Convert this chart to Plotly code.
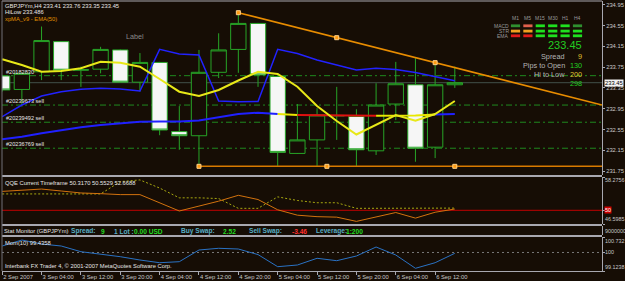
import plotly.graph_objects as go

# ---------------- data ----------------
bars = list(range(24))
open_ = [233.58, 233.32, 233.66, 234.24, 233.69, 233.71, 234.08, 233.46, 233.84, 232.51, 232.43, 233.65,
         234.09, 234.59, 233.57, 232.09, 232.35, 232.81, 232.80, 232.14, 233.04, 233.41, 232.21, 233.41]
high = [233.60, 233.64, 234.53, 234.25, 233.76, 234.14, 234.09, 234.02, 233.85, 233.00, 234.08, 234.40,
        234.80, 234.60, 233.58, 233.04, 232.96, 233.37, 232.94, 233.44, 233.85, 233.92, 233.84, 233.76]
low = [233.28, 232.99, 233.50, 233.50, 233.37, 233.63, 233.45, 233.28, 232.44, 232.16, 231.85, 233.54,
       233.64, 233.37, 231.85, 232.08, 231.85, 232.35, 231.85, 232.06, 232.73, 231.93, 232.00, 233.35]
close = [233.31, 233.63, 234.26, 233.69, 233.70, 234.09, 233.46, 233.84, 232.54, 232.43, 233.65, 234.08,
         234.59, 233.60, 232.11, 232.35, 232.83, 232.82, 232.16, 233.02, 233.43, 232.19, 233.41, 233.45]

xpma = [233.900, 233.790, 233.660, 233.675, 233.727, 233.854, 233.835, 233.758, 233.521, 233.277, 233.194, 233.310,
        233.492, 233.660, 233.617, 233.373, 233.002, 232.713, 232.454, 232.637, 232.829, 232.719, 232.848, 233.098]
hilow = [232.796, 233.021, 233.194, 233.277, 233.323, 233.342, 233.329, 233.290, 234.092, 234.002, 233.983, 233.098,
         233.085, 233.088, 234.092, 234.012, 233.887, 233.790, 233.694, 233.727, 233.704, 233.646, 233.560, 233.486]
ema50 = [232.362, 232.412, 232.477, 232.540, 232.592, 232.637, 232.669, 232.700, 232.704, 232.704, 232.723, 232.781,
         232.848, 232.873, 232.848, 232.829, 232.829, 232.819, 232.815, 232.815, 232.819, 232.819, 232.838, 232.848]
ema50_state = ["up", "up", "up", "up", "up", "up", "up", "up", "up", "up", "up", "up",
               "up", "up", "up", "flat", "down", "down", "down", "down", "flat", "flat", "flat", "up"]

qqe_rsi = [54.70, 54.99, 55.28, 54.80, 54.31, 54.14, 53.90, 53.90, 51.88, 49.83, 51.05, 52.27,
           53.73, 52.68, 50.13, 48.79, 48.42, 48.30, 47.25, 48.38, 49.45, 48.06, 49.52, 50.32]
qqe_trail = [54.07, 54.07, 54.07, 54.07, 54.07, 54.07, 57.13, 57.55, 55.53, 53.10, 53.10, 52.92,
             50.49, 50.49, 53.34, 52.44, 51.88, 51.88, 50.49, 50.49, 50.49, 50.49, 50.49, 50.55]
mom = [100.306, 100.590, 100.401, 100.306, 100.037, 99.928, 99.800, 99.644, 99.516, 99.564, 100.117, 100.198,
       100.164, 99.900, 99.327, 99.407, 99.725, 99.611, 99.833, 100.259, 99.881, 99.251, 99.516, 99.961]

time_label_bars = [0, 2, 4, 6, 8, 10, 12, 14, 16, 18, 20, 22]
time_labels = ["2 Sep 2007", "3 Sep 04:00", "3 Sep 12:00", "3 Sep 20:00", "4 Sep 04:00", "4 Sep 12:00",
               "4 Sep 20:00", "5 Sep 04:00", "5 Sep 12:00", "5 Sep 20:00", "6 Sep 04:00", "6 Sep 12:00"]

price_ticks = [234.95, 234.55, 234.15, 233.75, 233.35, 232.95, 232.55, 232.15, 231.75]
bid_price = 233.45

order_ids = ["#20182830", "#20239673 sell", "#20239492 sell", "#20236769 sell"]
order_prices = [233.585, 233.02, 232.69, 232.19]

trend_bars = [12, 22]
trend_prices = [234.796, 233.835]
support_bars = [10, 23]
support_price = 231.842

qqe_levels = [58.2756, 50.0, 46.5985]     # max, level, min
mom_levels = [100.732, 100.0, 99.1238]    # max, level, min
stat_axis_label = "9000000"

header_lines = ["GBPJPYm,H4 233.41 233.76 233.35 233.45", "HiLow 233.486"]
ma_caption = "xpMA_v9 - EMA(50)"
qqe_caption = "QQE Current Timeframe 50.3170 50.5529 52.6688"
mom_caption = "Mom(10) 99.4358"
copyright_text = "Interbank FX Trader 4, © 2001-2007 MetaQuotes Software Corp."
object_label = "Label"

big_price = "233.45"
info_names = ["Spread", "Pips to Open", "Hi to Low", ""]
info_values = ["9", "130", "200", "298"]
info_kinds = ["warn", "ok", "warn", "ok"]

tf_names = ["M1", "M5", "M15", "M30", "H1", "H4"]
ind_names = ["MACD", "STR", "EMA"]
signals = [["weak", "soft_down", "up", "up", "up", "weak"],
           ["warn", "warn", "up", "up", "up", "up"],
           ["down", "down", "up", "up", "up", "up"]]

stat_items = [("Stat Monitor (GBPJPYm)", "title"), ("Spread:", "key"), ("9", "val"), ("1 Lot :", "key"),
              ("0.00 USD", "val"), ("Buy Swap:", "key"), ("2.52", "val"), ("Sell Swap:", "key"),
              ("-3.46", "neg"), ("Leverage:", "key"), ("1:200", "val")]

# ---------------- layout geometry / style ----------------
W, H = 625, 281
ML, MR, MT, MB = 2, 23, 1, 10
PW, PH = W - ML - MR, H - MT - MB


def fx(px):
    return (px - ML) / PW


def fy(py):
    return (H - MB - py) / PH


X0, X1 = -0.01, 30.48
BG = "#160d05"
GREEN = "#27a527"
WHITE = "#e6e6e6"
GRAY = "#a8a8b0"
FONT = "Liberation Sans, Arial, sans-serif"
ORANGE = "#e88c00"

fig = go.Figure()

fig.add_trace(go.Candlestick(
    x=bars, open=open_, high=high, low=low, close=close,
    increasing=dict(line=dict(color=GREEN, width=1), fillcolor=BG),
    decreasing=dict(line=dict(color=GREEN, width=1), fillcolor="#f6f6f6"),
    whiskerwidth=0, xaxis="x", yaxis="y", showlegend=False, hoverinfo="skip"))

# EMA(50) multi-coloured
state_color = {"up": "#2020ff", "flat": "#e8e800", "down": "#e01010"}
k = 1
while k < len(bars):
    s = ema50_state[k]
    j = k
    while j + 1 < len(bars) and ema50_state[j + 1] == s:
        j += 1
    fig.add_trace(go.Scatter(x=bars[k - 1:j + 1], y=ema50[k - 1:j + 1], mode="lines",
                             line=dict(color=state_color[s], width=2), xaxis="x", yaxis="y",
                             showlegend=False, hoverinfo="skip"))
    k = j + 1

fig.add_trace(go.Scatter(x=bars, y=hilow, mode="lines", line=dict(color="#2222ff", width=1.5),
                         xaxis="x", yaxis="y", showlegend=False, hoverinfo="skip"))
fig.add_trace(go.Scatter(x=bars, y=xpma, mode="lines", line=dict(color="#e8e818", width=2),
                         xaxis="x", yaxis="y", showlegend=False, hoverinfo="skip"))

# trend lines (rays to the right edge)
slope = (trend_prices[1] - trend_prices[0]) / (trend_bars[1] - trend_bars[0])
fig.add_trace(go.Scatter(x=[trend_bars[0], X1],
                         y=[trend_prices[0], trend_prices[0] + slope * (X1 - trend_bars[0])],
                         mode="lines", line=dict(color=ORANGE, width=1.6), xaxis="x", yaxis="y",
                         showlegend=False, hoverinfo="skip"))
fig.add_trace(go.Scatter(x=[support_bars[0], X1], y=[support_price, support_price],
                         mode="lines", line=dict(color="#d87a00", width=1.6), xaxis="x", yaxis="y",
                         showlegend=False, hoverinfo="skip"))
tb_mid = (trend_bars[0] + trend_bars[1]) / 2
sb_mid = (support_bars[0] + support_bars[1]) / 2
fig.add_trace(go.Scatter(
    x=[trend_bars[0], tb_mid, trend_bars[1], support_bars[0], sb_mid, support_bars[1]],
    y=[trend_prices[0], trend_prices[0] + slope * (tb_mid - trend_bars[0]), trend_prices[1],
       support_price, support_price, support_price],
    mode="markers", marker=dict(symbol="square", size=4, color="#ff9a10",
                                line=dict(color="#ffd28a", width=1)),
    xaxis="x", yaxis="y", showlegend=False, hoverinfo="skip"))

# QQE
fig.add_trace(go.Scatter(x=bars, y=qqe_trail, mode="lines", line=dict(color="#a8a810", width=1, dash="2px,2px"),
                         xaxis="x", yaxis="y2", showlegend=False, hoverinfo="skip"))
fig.add_trace(go.Scatter(x=bars, y=qqe_rsi, mode="lines", line=dict(color="#d2720e", width=1),
                         xaxis="x", yaxis="y2", showlegend=False, hoverinfo="skip"))
# stat strip (empty)
fig.add_trace(go.Scatter(x=[bars[0]], y=[0.5], mode="markers", marker=dict(opacity=0),
                         xaxis="x", yaxis="y3", showlegend=False, hoverinfo="skip"))
# Momentum
fig.add_trace(go.Scatter(x=bars, y=mom, mode="lines", line=dict(color="#2a72c4", width=1),
                         xaxis="x", yaxis="y4", showlegend=False, hoverinfo="skip"))

shapes = []
for p in order_prices:
    shapes.append(dict(type="line", xref="paper", x0=0, x1=1, yref="y", y0=p, y1=p, layer="below",
                       line=dict(color="#1f8a1f", width=1, dash="6px,3px,2px,3px")))
shapes.append(dict(type="line", xref="paper", x0=0, x1=1, yref="y", y0=bid_price, y1=bid_price, layer="below",
                   line=dict(color="#42514a", width=1)))
shapes.append(dict(type="line", xref="paper", x0=0, x1=1, yref="y2", y0=qqe_levels[1], y1=qqe_levels[1],
                   layer="below", line=dict(color="#c00000", width=1)))
shapes.append(dict(type="line", xref="paper", x0=0, x1=1, yref="y4", y0=mom_levels[1], y1=mom_levels[1],
                   layer="below", line=dict(color="#7a7a7a", width=1, dash="2px,3px")))
for py, wdt in [(1, 1), (176, 2), (225, 2), (236, 2)]:
    shapes.append(dict(type="line", xref="paper", yref="paper", x0=0, x1=1, y0=fy(py), y1=fy(py),
                       line=dict(color=GRAY, width=wdt), layer="above"))
shapes.append(dict(type="line", xref="paper", yref="paper", x0=0, x1=0, y0=0, y1=1,
                   line=dict(color="#707078", width=1), layer="above"))
sig_color = {"up": "#1fe01f", "weak": "#2f8f2f", "soft_down": "#e0604c", "warn": "#f0a020", "down": "#e01a1a"}
row_y = [25.8, 31.1, 35.8]
for r, row in enumerate(signals):
    for c, s in enumerate(row):
        cx = 515.5 + 12.4 * c
        shapes.append(dict(type="rect", xref="paper", yref="paper",
                           x0=fx(cx - 4.6), x1=fx(cx + 4.6), y0=fy(row_y[r] + 1.4), y1=fy(row_y[r] - 1.4),
                           fillcolor=sig_color[s], line=dict(width=0), layer="above"))

ann = []


def txt(x, y, s, color=WHITE, size=5.8, xanchor="left", yref="paper", yanchor="middle", bg=None):
    d = dict(x=fx(x), xref="paper", y=fy(y) if yref == "paper" else y, yref=yref, text=s,
             showarrow=False, xanchor=xanchor, yanchor=yanchor,
             font=dict(family=FONT, size=size, color=color), borderpad=0)
    if bg:
        d["bgcolor"] = bg
    ann.append(d)


txt(4, 5.7, header_lines[0])
txt(4, 12.3, header_lines[1])
txt(4, 18.6, ma_caption, color="#e09000")
txt(125, 37, object_label, color="#8a8a8a", size=7.2)
for oid, p in zip(order_ids, order_prices):
    txt(5, p, oid, size=5.6, yref="y", yanchor="bottom")

txt(583, 45, big_price, color="#22cc22", size=11, xanchor="right")
kind_color = {"ok": "#22d022", "warn": "#e0c030"}
for i, (nm, val, kd) in enumerate(zip(info_names, info_values, info_kinds)):
    yy = 56 + 9 * i
    if nm:
        txt(565.5, yy, nm, color="#b4b4b4", size=7.3, xanchor="right")
    txt(583, yy, val, color=kind_color[kd], size=7.3, xanchor="right")
for c, nm in enumerate(tf_names):
    txt(515.5 + 12.4 * c, 17.6, nm, color="#9a9a9a", size=5, xanchor="center")
for r, nm in enumerate(ind_names):
    txt(509.5, row_y[r], nm, color="#9a9a9a", size=5, xanchor="right")

txt(4, 182.7, qqe_caption)
txt(4, 242.7, mom_caption)
txt(4, 266, copyright_text)
stat_x = [3, 70, 100, 113, 133, 180, 222, 248, 291, 315, 345]
stat_col = {"title": WHITE, "key": "#58aec4", "val": "#22dd22", "neg": "#ff3030"}
for (s, kd), sx in zip(stat_items, stat_x):
    if kd == "title":
        txt(sx, 231, s, color=stat_col[kd], size=5.8)
    else:
        txt(sx, 231, "<b>" + s + "</b>", color=stat_col[kd], size=6.6)

RS = 5.4
txt(603.5, 180, "%.4f" % qqe_levels[0], color="#c8c8c8", size=RS)
txt(603.5, qqe_levels[1], "%d" % qqe_levels[1], color="#ffffff", yref="y2", bg="#d00000", size=RS)
txt(603.5, 219.3, "%.4f" % qqe_levels[2], color="#c8c8c8", size=RS)
txt(603.5, 230.8, stat_axis_label, color="#c8c8c8", size=RS)
txt(603.5, 240.7, "%.3f" % mom_levels[0], color="#c8c8c8", size=RS)
txt(603.5, mom_levels[1], "%d" % mom_levels[1], color="#c8c8c8", yref="y4", size=RS)
txt(603.5, 266.7, "%.4f" % mom_levels[2], color="#c8c8c8", size=RS)
txt(603.5, bid_price, "%.2f" % bid_price, color="#000000", yref="y", bg="#f2f2f2")

axis_common = dict(showgrid=False, zeroline=False, fixedrange=True)
fig.update_layout(
    width=W, height=H, margin=dict(l=ML, r=MR, t=MT, b=MB, autoexpand=False),
    paper_bgcolor=BG, plot_bgcolor="rgba(0,0,0,0)",
    boxgap=0.22, boxgroupgap=0, showlegend=False, hovermode=False,
    xaxis=dict(range=[X0, X1], anchor="y4", tickvals=time_label_bars, ticktext=time_labels,
               tickangle=0, ticklabelposition="outside right", ticks="outside", ticklen=3, tickcolor=GRAY,
               tickfont=dict(family=FONT, size=5.8, color="#c8c8c8"), showline=True, linecolor=GRAY,
               linewidth=1, rangeslider=dict(visible=False), automargin=False, **axis_common),
    yaxis=dict(domain=[fy(175), fy(1)], range=[231.675, 235.021], side="right", anchor="x",
               tickvals=price_ticks, ticktext=["%.2f" % v for v in price_ticks], ticks="outside", ticklen=2,
               tickcolor=GRAY, tickfont=dict(family=FONT, size=5.8, color="#c8c8c8"),
               showline=True, linecolor=GRAY, automargin=False, **axis_common),
    yaxis2=dict(domain=[fy(224), fy(177)], range=[qqe_levels[2], qqe_levels[0]], side="right", anchor="x",
                tickvals=qqe_levels, showticklabels=False, ticks="outside", ticklen=2, tickcolor=GRAY,
                showline=True, linecolor=GRAY, **axis_common),
    yaxis3=dict(domain=[fy(235), fy(226)], range=[0, 1], side="right", anchor="x", showticklabels=False,
                showline=True, linecolor=GRAY, **axis_common),
    yaxis4=dict(domain=[fy(271), fy(237)], range=[mom_levels[2], mom_levels[0]], side="right", anchor="x",
                tickvals=mom_levels, showticklabels=False, ticks="outside", ticklen=2, tickcolor=GRAY,
                showline=True, linecolor=GRAY, **axis_common),
    shapes=shapes, annotations=ann,
)

fig.write_html("out.html")
